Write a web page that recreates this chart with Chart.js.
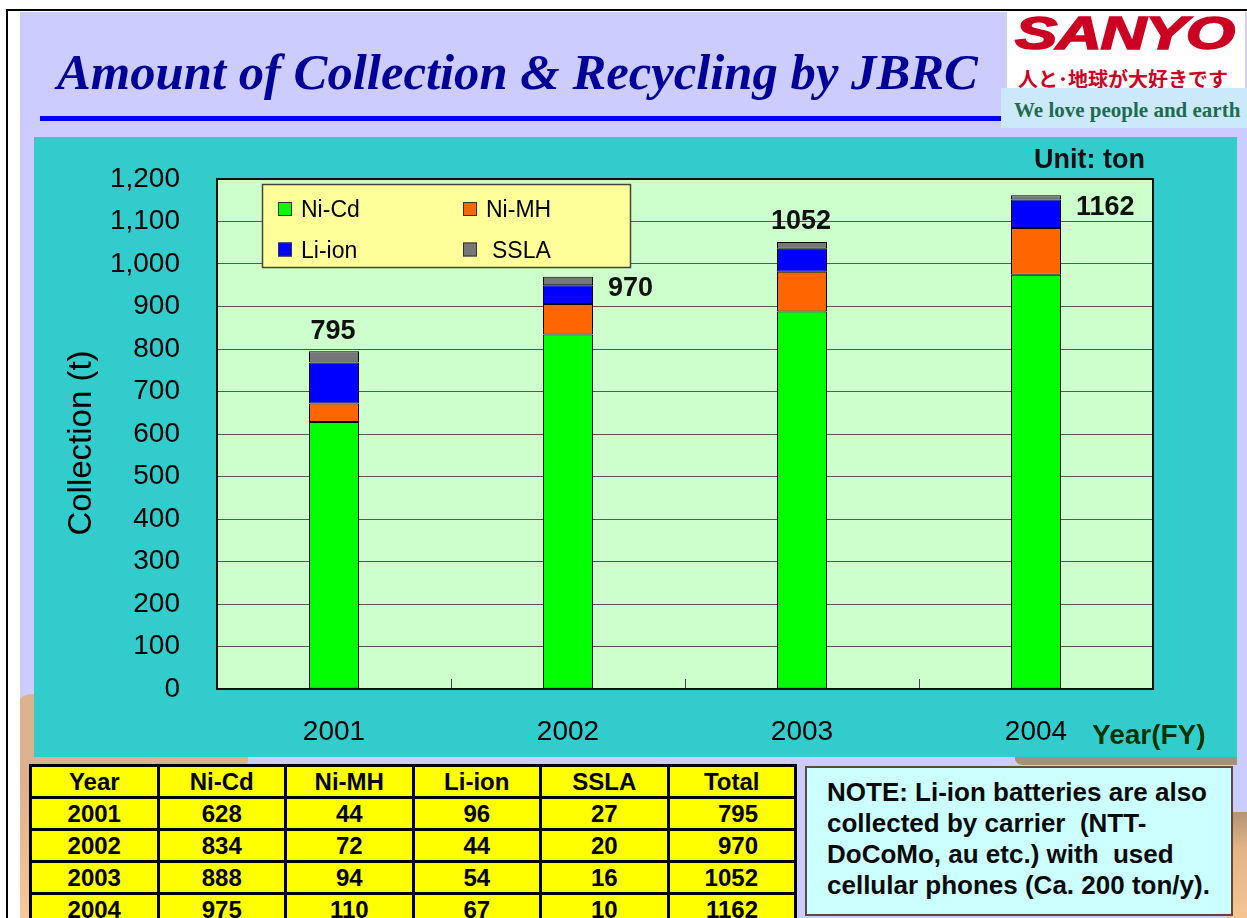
<!DOCTYPE html>
<html>
<head>
<meta charset="utf-8">
<script src="https://cdn.jsdelivr.net/npm/chart.js@4"></script>
<style>
  html, body { margin: 0; padding: 0; background: #fff; }
  body { width: 1247px; height: 918px; position: relative; overflow: hidden;
         font-family: "Liberation Sans", Arial, sans-serif; }
  .abs { position: absolute; }
  #frameTop  { left: 6px; top: 9px; width: 1241px; height: 2px; background: #000; }
  #frameLeft { left: 6px; top: 9px; width: 2px; height: 909px; background: #000; }
  #slide { left: 20px; top: 12px; width: 1227px; height: 906px; background: #CCCCFF; }
  #tanL { left: 20px; top: 694px; width: 40px; height: 224px;
          background: linear-gradient(#DDB18C 0%, #DDB18C 40%, #F6C89A 100%);
          border-top-left-radius: 14px 6px; }
  #tanB { left: 20px; top: 748px; width: 228px; height: 19px; background: #DDB18C;
          border-bottom-right-radius: 10px 6px; }
  #brownR { left: 1015px; top: 748px; width: 222px; height: 17px; background: #A89078;
            border-bottom-left-radius: 8px 6px; }
  #tanR { left: 1226px; top: 812px; width: 21px; height: 106px;
          background: linear-gradient(#B39474 0%, #E3B486 35%, #F5C592 100%);
          border-top-left-radius: 8px 12px; }
  #title { left: 57px; top: 43px; line-height: 51px; white-space: nowrap;
           font: italic bold 50.7px "Liberation Serif", "Times New Roman", serif; color: #000099; }
  #rule { left: 40px; top: 116px; width: 962px; height: 5px; background: #0000FF; }
  #logoBox { left: 1007px; top: 12px; width: 238px; height: 76px; background: #fff;
             border-right: 1px solid #F4C8C8; }
  #logo { left: 1015px; top: 6px; line-height: 46px; white-space: nowrap;
          font: italic 900 46px "Liberation Sans", Arial, sans-serif; color: #CC0022;
          -webkit-text-stroke: 1.6px #CC0022;
          transform: scaleX(1.38); transform-origin: 0 0; letter-spacing: -1px; }
  #tagJa { left: 1018px; top: 64px; line-height: 22px; white-space: nowrap;
           font: 700 20px "Noto Sans CJK JP", sans-serif; color: #CC0022; }
  #tagBox { left: 1001px; top: 88px; width: 246px; height: 40px; background: #CCE9FB; }
  #tagEn { left: 1014px; top: 98px; line-height: 24px; white-space: nowrap;
           font: bold 21px "Liberation Serif", "Times New Roman", serif; color: #1F6B4F; }
  #c { left: 34px; top: 137px; background: #33CCCC; }
  #tbl { left: 29px; top: 764px; width: 768px; border-collapse: collapse; table-layout: fixed;
         background: #FFFF00; border: 3px solid #000; }
  #tbl td { border: 3px solid #000; padding: 0; height: 29px; line-height: 29px;
            text-align: center; font: bold 24px "Liberation Sans", Arial, sans-serif; color: #000; }
  #tbl td.tot { text-align: right; padding-right: 36px; }
  #tbl tr:first-child td.tot { text-align: center; padding-right: 0; }
  #note { left: 805px; top: 766px; width: 424px; height: 146px; background: #CCFFFF;
          border: 2px solid #5C4A3A; box-sizing: content-box; }
  #noteText { left: 827px; top: 777px; white-space: pre; line-height: 33.5px;
              font: bold 26px "Liberation Sans", Arial, sans-serif; color: #0A0A0A; }
</style>
</head>
<body>
<div id="frameTop" class="abs"></div>
<div id="frameLeft" class="abs"></div>
<div id="slide" class="abs"></div>
<div id="tanL" class="abs"></div>
<div id="tanB" class="abs"></div>
<div id="brownR" class="abs"></div>
<div id="tanR" class="abs"></div>

<div id="title" class="abs">Amount of Collection &amp; Recycling by JBRC</div>
<div id="rule" class="abs"></div>
<div id="logoBox" class="abs"></div>
<div id="logo" class="abs">SANYO</div>
<div id="tagJa" class="abs">人と･地球が大好きです</div>
<div id="tagBox" class="abs"></div>
<div id="tagEn" class="abs">We love people and earth</div>

<canvas id="c" class="abs" width="1203" height="620"></canvas>

<table id="tbl" class="abs"></table>
<div id="note" class="abs"></div>
<div id="noteText" class="abs">NOTE: Li-ion batteries are also
collected by carrier  (NTT-
DoCoMo, au etc.) with  used
cellular phones (Ca. 200 ton/y).</div>

<script>
// Fiscal years and collected tonnage per battery type
const years = ['2001', '2002', '2003', '2004'];
const seriesNames = ['Ni-Cd', 'Ni-MH', 'Li-ion', 'SSLA'];
const niCd  = [628, 834, 888, 975];
const niMH  = [44, 72, 94, 110];
const liIon = [96, 44, 54, 67];
const ssla  = [27, 20, 16, 10];
const yTicks = [0, 100, 200, 300, 400, 500, 600, 700, 800, 900, 1000, 1100, 1200];

// Presentation settings
const seriesColors = ['#00FF00', '#FF6600', '#0000FF', '#777777'];
const totalLabelSide = ['above', 'right', 'above', 'right'];
const FONT = '"Liberation Sans", Arial, sans-serif';

const seriesValues = [niCd, niMH, liIon, ssla];
const totals = years.map((_, i) => seriesValues.reduce((s, arr) => s + arr[i], 0));

// Summary table below the chart
(function buildTable() {
  const tbl = document.getElementById('tbl');
  const head = ['Year', ...seriesNames, 'Total'];
  const rows = [head, ...years.map((yr, i) => [yr, ...seriesValues.map(a => a[i]), totals[i]])];
  tbl.innerHTML = rows.map(r => '<tr>' + r.map((v, j) =>
    '<td' + (j === r.length - 1 ? ' class="tot"' : '') + '>' + v + '</td>').join('') + '</tr>').join('');
})();

Chart.defaults.font.family = FONT;

const overlay = {
  id: 'overlay',
  beforeDraw(chart) {
    const { ctx, chartArea: a } = chart;
    ctx.save();
    ctx.fillStyle = '#CCFFCC';
    ctx.fillRect(a.left, a.top, a.right - a.left, a.bottom - a.top);
    ctx.restore();
  },
  afterDatasetsDraw(chart) {
    const { ctx, chartArea: a, scales: { x, y } } = chart;
    ctx.save();

    // short ticks between categories, rising from the baseline
    ctx.strokeStyle = '#444';
    ctx.lineWidth = 1;
    for (let i = 1; i < years.length; i++) {
      const px = Math.round((x.getPixelForValue(i - 1) + x.getPixelForValue(i)) / 2) + 0.5;
      ctx.beginPath();
      ctx.moveTo(px, a.bottom);
      ctx.lineTo(px, a.bottom - 10);
      ctx.stroke();
    }

    // plot frame
    ctx.strokeStyle = '#111';
    ctx.lineWidth = 2;
    ctx.strokeRect(a.left, a.top, a.right - a.left, a.bottom - a.top);

    // legend box inside the plot
    const lx = a.left + 45, ly = a.top + 5, lw = 368, lh = 83;
    ctx.fillStyle = '#FFFF99';
    ctx.fillRect(lx, ly, lw, lh);
    ctx.strokeStyle = '#444';
    ctx.lineWidth = 1.5;
    ctx.strokeRect(lx + 0.5, ly + 0.5, lw, lh);
    ctx.font = '23px ' + FONT;
    ctx.textAlign = 'left';
    ctx.textBaseline = 'middle';
    seriesNames.forEach((name, k) => {
      const col = k % 2, row = Math.floor(k / 2);
      const sx = lx + (col ? 201 : 16);
      const sy = ly + (row ? 65.5 : 25);
      ctx.fillStyle = seriesColors[k];
      ctx.fillRect(sx, sy - 7, 14, 14);
      ctx.strokeStyle = '#333';
      ctx.lineWidth = 1;
      ctx.strokeRect(sx + 0.5, sy - 6.5, 13, 13);
      ctx.fillStyle = '#000';
      ctx.fillText(name, lx + (col ? 224 : 39) + (col && row ? 6 : 0), sy + 2);
    });

    // totals on top of each stack
    const lastMeta = chart.getDatasetMeta(chart.data.datasets.length - 1);
    ctx.font = 'bold 27px ' + FONT;
    ctx.fillStyle = '#111';
    years.forEach((yr, i) => {
      const bar = lastMeta.data[i];
      const top = y.getPixelForValue(totals[i]);
      if (totalLabelSide[i] === 'above') {
        ctx.textAlign = 'center';
        ctx.fillText(String(totals[i]), bar.x - 1, top - 20);
      } else {
        ctx.textAlign = 'left';
        ctx.fillText(String(totals[i]), bar.x + bar.width / 2 + 15, top + 12);
      }
    });

    // unit and axis captions
    ctx.textAlign = 'left';
    ctx.font = 'bold 27px ' + FONT;
    ctx.fillStyle = '#111';
    ctx.fillText('Unit: ton', 1000, 24);
    ctx.font = 'bold 28px ' + FONT;
    ctx.fillStyle = '#003300';
    ctx.fillText('Year(FY)', 1058, 599);

    ctx.translate(48, 306);
    ctx.rotate(-Math.PI / 2);
    ctx.textAlign = 'center';
    ctx.font = '33px ' + FONT;
    ctx.fillStyle = '#000';
    ctx.fillText('Collection (t)', 0, 0);
    ctx.restore();
  }
};

new Chart(document.getElementById('c'), {
  type: 'bar',
  data: {
    labels: years,
    datasets: seriesNames.map((name, k) => ({
      label: name,
      data: seriesValues[k],
      backgroundColor: seriesColors[k],
      borderColor: '#000',
      borderWidth: 1,
      borderSkipped: false,
      categoryPercentage: 1,
      barPercentage: 0.2137
    }))
  },
  options: {
    responsive: false,
    animation: false,
    devicePixelRatio: 1,
    layout: { padding: { top: 42, right: 84, left: 0, bottom: 0 } },
    plugins: { legend: { display: false }, tooltip: { enabled: false } },
    scales: {
      x: {
        stacked: true,
        grid: { display: false, drawTicks: false },
        border: { display: false },
        ticks: { color: '#000', font: { size: 28 }, padding: 26, maxRotation: 0 },
        afterFit(scale) { scale.height = 68; }
      },
      y: {
        stacked: true,
        min: yTicks[0],
        max: yTicks[yTicks.length - 1],
        afterBuildTicks(scale) { scale.ticks = yTicks.map(v => ({ value: v })); },
        // invisible tick marks provide the gap between labels and the plot
        grid: { color: '#555', lineWidth: 1, drawTicks: true, tickLength: 37, tickColor: 'rgba(0,0,0,0)' },
        border: { display: false },
        ticks: {
          color: '#000', font: { size: 28 }, padding: 0,
          callback: v => Number(v).toLocaleString('en-US')
        },
        afterFit(scale) { scale.width = 183; }
      }
    }
  },
  plugins: [overlay]
});
</script>
</body>
</html>
